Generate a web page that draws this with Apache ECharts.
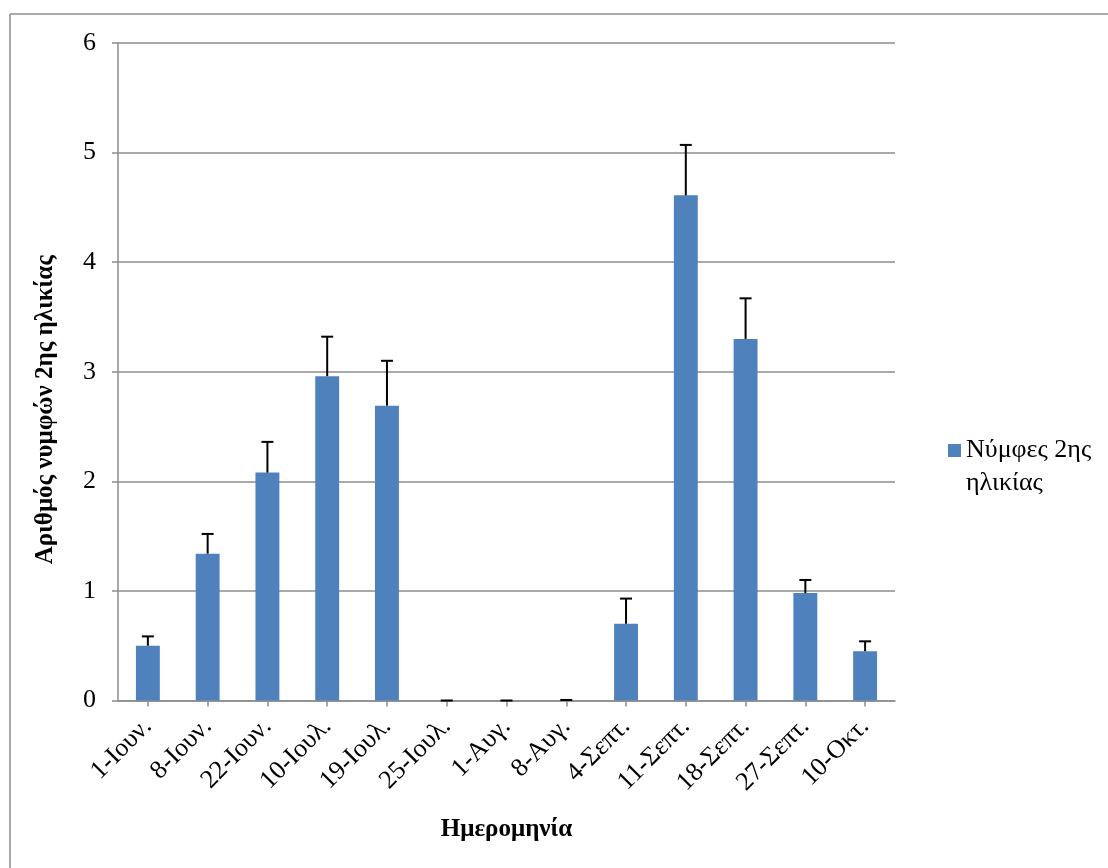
<!DOCTYPE html>
<html>
<head>
<meta charset="utf-8">
<script src="https://cdn.jsdelivr.net/npm/echarts@6/dist/echarts.min.js"></script>
<style>
html,body{margin:0;padding:0;background:#fff;}
#chart{width:1108px;height:868px;}
</style>
</head>
<body>
<div id="chart"></div>
<script>
var categories = ['1-Ιουν.','8-Ιουν.','22-Ιουν.','10-Ιουλ.','19-Ιουλ.','25-Ιουλ.','1-Αυγ.','8-Αυγ.','4-Σεπτ.','11-Σεπτ.','18-Σεπτ.','27-Σεπτ.','10-Οκτ.'];
var values = [0.50, 1.34, 2.08, 2.96, 2.69, 0, 0, 0, 0.70, 4.61, 3.30, 0.98, 0.45];
var errors = [0.085, 0.18, 0.28, 0.36, 0.41, 0, 0, 0.005, 0.23, 0.46, 0.37, 0.12, 0.09];
var yTicks = [0, 1, 2, 3, 4, 5, 6];
var seriesName = 'Νύμφες 2ης ηλικίας';

var errData = values.map(function(v, i){ return [i, v, v + errors[i]]; });
var font = 'Liberation Serif, Times New Roman, serif';

var chart = echarts.init(document.getElementById('chart'));
chart.setOption({
  backgroundColor: '#fff',
  animation: false,
  graphic: [
    {type:'line', shape:{x1:10, y1:14, x2:1108, y2:14}, style:{stroke:'#8c8c8c', lineWidth:1.5}},
    {type:'line', shape:{x1:10, y1:14, x2:10, y2:868}, style:{stroke:'#8c8c8c', lineWidth:1.5}}
  ],
  grid: {left:118, right:213, top:43, bottom:167.5, containLabel:false},
  legend: {
    left: 943, top: 396,
    itemWidth: 13, itemHeight: 13, itemGap: 0,
    icon: 'rect',
    data: [seriesName],
    formatter: function(){ return ' \nΝύμφες 2ης\nηλικίας'; },
    textStyle: {fontFamily: font, fontSize: 26, color: '#000', lineHeight: 33}
  },
  xAxis: {
    type: 'category',
    data: categories,
    name: 'Ημερομηνία',
    nameLocation: 'middle',
    nameGap: 117,
    nameTextStyle: {fontFamily: font, fontSize: 25, fontWeight: 'bold', color: '#000'},
    axisLine: {show:true, lineStyle:{color:'#8c8c8c', width:1.5}},
    axisTick: {show:true, alignWithLabel:true, length:6, lineStyle:{color:'#8c8c8c', width:1.5}},
    axisLabel: {rotate:45, margin:22, fontFamily: font, fontSize: 26, color:'#000', interval:0},
    splitLine: {show:false}
  },
  yAxis: {
    type: 'value',
    min: 0, max: 6, interval: 1,
    name: 'Αριθμός νυμφών 2ης ηλικίας',
    nameLocation: 'middle',
    nameGap: 60,
    nameRotate: 90,
    nameTextStyle: {fontFamily: font, fontSize: 25, fontWeight: 'bold', color: '#000', padding:[0,76,0,0]},
    axisLine: {show:true, lineStyle:{color:'#8c8c8c', width:1.5}},
    axisTick: {show:true, length:6, lineStyle:{color:'#8c8c8c', width:1.5}},
    axisLabel: {margin:22, fontFamily: font, fontSize: 26, color:'#000',
      formatter: function(v){ return yTicks.indexOf(v) >= 0 ? String(v) : ''; }},
    splitLine: {show:true, lineStyle:{color:'#8c8c8c', width:1.5}}
  },
  series: [
    {
      name: seriesName,
      type: 'bar',
      data: values,
      barWidth: '40%',
      itemStyle: {color:'#4f81bd'}
    },
    {
      type: 'custom',
      name: 'err',
      data: errData,
      z: 10,
      renderItem: function(params, api){
        var x = api.value(0);
        var lo = api.coord([x, api.value(1)]);
        var hi = api.coord([x, api.value(2)]);
        var hw = 6;
        return {
          type: 'group',
          children: [
            {type:'line', shape:{x1:lo[0], y1:lo[1], x2:hi[0], y2:hi[1]}, style:{stroke:'#000', lineWidth:2}},
            {type:'line', shape:{x1:hi[0]-hw, y1:hi[1], x2:hi[0]+hw, y2:hi[1]}, style:{stroke:'#000', lineWidth:2}}
          ]
        };
      }
    }
  ]
});
</script>
</body>
</html>
